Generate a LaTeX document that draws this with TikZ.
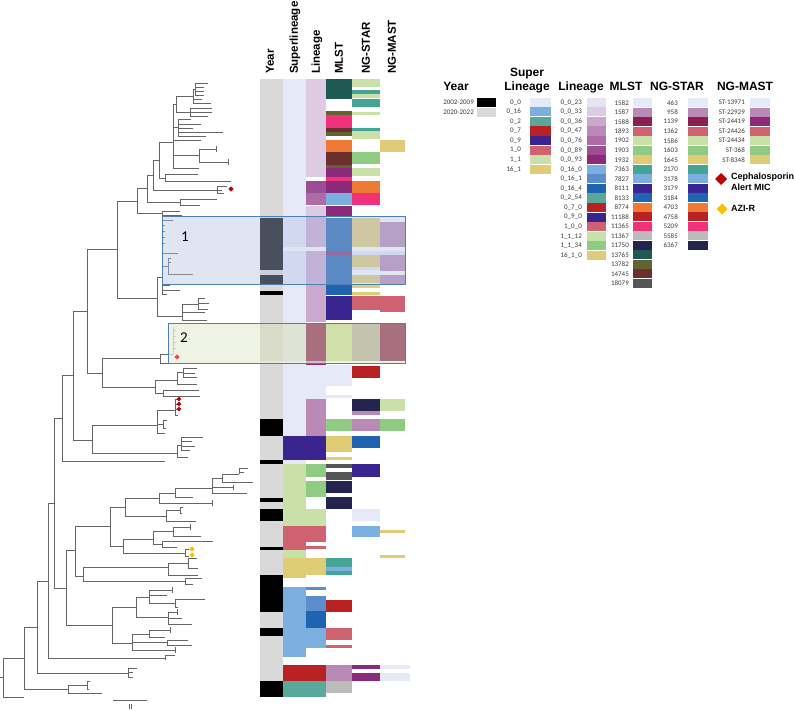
\documentclass[tikz,border=0pt]{standalone}
\usepackage{fontspec}
\setmainfont{Carlito}
\newfontfamily\hdfont{Liberation Sans}
\definecolor{cLav}{HTML}{E6E9F8}
\definecolor{cMauve}{HTML}{B88AB5}
\definecolor{cWine}{HTML}{8B1F52}
\definecolor{cPinkRed}{HTML}{CF6271}
\definecolor{cLGreen}{HTML}{C9E0A8}
\definecolor{cGreen}{HTML}{8FCB82}
\definecolor{cYellow}{HTML}{DFCC74}
\definecolor{cTeal}{HTML}{45A594}
\definecolor{cSLTeal}{HTML}{5AA899}
\definecolor{cLBlue}{HTML}{7AAFDF}
\definecolor{cMBlue}{HTML}{5B8ECB}
\definecolor{cPurple}{HTML}{3A2490}
\definecolor{cBlue}{HTML}{1F64B0}
\definecolor{cOrange}{HTML}{EF7A35}
\definecolor{cRed}{HTML}{B82222}
\definecolor{cHot}{HTML}{F0327A}
\definecolor{cGreyL}{HTML}{BBBBBB}
\definecolor{cNavy}{HTML}{25244F}
\definecolor{cDTeal}{HTML}{1F5953}
\definecolor{cOlive}{HTML}{636331}
\definecolor{cBrown}{HTML}{6A2F2F}
\definecolor{cDGrey}{HTML}{555555}
\definecolor{cMag}{HTML}{8B2A7A}
\definecolor{cL23}{HTML}{E6E4F4}
\definecolor{cL33}{HTML}{DCCBE2}
\definecolor{cL36}{HTML}{CBA9CF}
\definecolor{cL76}{HTML}{AD6CA7}
\definecolor{cL89}{HTML}{9C4E94}
\definecolor{cYear}{HTML}{D9D9D9}
\definecolor{treeGrey}{HTML}{666666}
\definecolor{labGrey}{HTML}{3A3A3A}
\definecolor{boxOneFill}{HTML}{B4C1E5}
\definecolor{boxTwoFill}{HTML}{E9EFDC}
\definecolor{boxEdge}{HTML}{4D7FB5}
\definecolor{bTwoYear}{HTML}{D7DBC8}
\definecolor{bTwoSup}{HTML}{DDE4D5}
\definecolor{bTwoLin}{HTML}{A8707F}
\definecolor{bTwoMl}{HTML}{D1E0AB}
\definecolor{bTwoSt}{HTML}{C4C4AE}
\definecolor{dRed}{HTML}{C00000}
\definecolor{dOrange}{HTML}{E0524A}
\definecolor{dYellow}{HTML}{FFC000}
\tikzset{
 treeline/.style={draw=treeGrey, line width=0.7pt, line cap=rect},
 hdr/.style={rotate=90, anchor=west, inner sep=0pt, font=\hdfont\bfseries\fontsize{11.5}{12}\selectfont},
 ttl/.style={anchor=base, inner sep=0pt, font=\hdfont\bfseries\fontsize{12}{13}\selectfont},
 leglab/.style={anchor=east, inner sep=0pt, text=labGrey, font=\fontsize{7}{8}\selectfont},
 keytxt/.style={anchor=west, inner sep=0pt, font=\hdfont\bfseries\fontsize{9}{10}\selectfont},
 boxlab/.style={inner sep=0pt, font=\fontsize{15}{16}\selectfont},
}
\newcommand{\dmd}[4]{\fill[#4] (#1,#2) +(0,-#3) -- +(#3,0) -- +(0,#3) -- +(-#3,0) -- cycle;}
\newcommand{\hmcol}[3]{\foreach \ya/\yb/\cc in {#3} {\fill[\cc] (#1,\ya) rectangle (#2,\yb);}}
\begin{document}
\begin{tikzpicture}[x=1pt,y=-1pt]
\useasboundingbox (0,0) rectangle (794,710);
\fill[white] (0,0) rectangle (794,710);
% ---------------- tree ----------------
\foreach \a/\b/\y in {0/3/677, 3/24/658, 3/24/697, 24/37/627, 24/68/689, 37/48/581, 37/128/673, 48/54/503, 48/165/658, 54/62/418, 54/66/588, 62/73/375, 62/165/461, 73/87/311, 73/92/440, 87/117/249, 87/102/373, 117/137/201, 117/157/298, 137/147/188, 137/162/213, 147/153/175, 147/180/202, 153/159/160, 153/217/190, 159/173/142, 159/165/178, 165/198/174, 165/231/181,
173/176/104, 176/193/96, 193/195/89, 195/208/83, 195/204/87, 195/204/91, 195/204/95, 193/202/99, 193/211/103, 176/190/112, 190/212/108, 190/212/112, 190/208/116,
173/178/127, 178/191/119, 178/201/124, 178/193/128, 178/223/132, 178/206/136,
173/201/140, 173/199/155, 199/216/149, 199/228/162, 173/199/168,
217/227/186, 217/222/190, 217/224/193, 180/217/199, 180/200/205, 162/180/211, 162/182/215,
157/162/277, 162/173/220, 162/165/225, 162/165/231, 162/165/237, 162/165/243, 162/178/253, 162/168/266, 168/171/258, 168/171/262, 168/193/274, 162/170/285, 162/180/290, 162/167/294,
157/182/316, 182/198/304, 198/205/298, 198/209/303, 198/208/309, 182/205/312, 182/207/320,
102/160/358, 160/173/354, 173/176/330, 173/176/336, 173/176/342, 173/176/348, 160/170/363,
102/155/387, 155/177/380, 177/183/372, 183/197/368, 183/195/373, 183/197/377, 177/197/384, 155/163/393, 163/199/390, 163/200/396,
92/157/425, 92/177/453, 157/175/410, 175/179/399, 175/179/404, 175/179/409, 175/178/415, 157/163/424, 163/167/420, 163/166/428, 157/165/433,
177/181/445, 181/203/437, 181/192/441, 181/195/446, 181/190/450, 177/188/457,
66/75/550, 66/112/625, 75/110/526, 75/83/576, 110/125/507, 110/123/546, 125/159/498, 125/166/516, 159/175/493, 159/212/503, 175/212/488, 175/193/497, 212/222/478, 212/233/487, 212/247/493, 222/239/474, 222/253/482, 239/248/468, 239/244/472,
166/180/510, 180/183/507, 180/182/513, 166/196/521,
123/153/539, 123/185/553, 153/173/531, 153/162/544, 173/190/527, 173/201/536, 162/213/541, 162/177/547, 185/189/549, 185/189/556,
83/168/567, 83/185/581, 168/188/563, 168/198/575, 188/197/558, 188/198/568, 185/202/578, 185/193/584,
112/136/607, 112/132/643, 136/149/597, 136/168/617, 149/172/590, 149/167/595, 149/175/603, 175/205/599, 175/178/607,
168/177/612, 168/182/618, 168/192/624,
132/149/634, 132/167/642, 132/175/650, 149/170/630, 149/165/637, 167/188/640, 167/192/645,
165/175/655, 128/137/668, 128/133/672, 128/133/677, 68/87/685, 68/102/693, 87/90/681, 87/89/689}
 {\draw[treeline] (\a,\y) -- (\b,\y);}
\foreach \x/\a/\b in {3/658/697, 24/627/689, 37/581/673, 48/503/658, 54/418/588, 62/375/461, 73/311/440, 87/249/373, 117/201/298, 137/188/213, 147/175/202, 153/160/190, 159/142/178, 165/174/181, 173/104/168, 176/96/112, 193/89/103, 195/83/95, 190/108/116, 178/119/136, 199/149/162, 216/146/152, 228/159/165, 217/186/193, 180/199/205, 162/211/215,
157/277/316, 162/220/294, 168/258/274, 182/304/320, 198/298/309,
102/358/387, 160/354/363, 173/327/354, 155/380/393, 177/372/384, 183/368/377, 163/390/396,
92/425/453, 157/410/433, 175/399/415, 163/420/428, 177/445/457, 181/437/450,
66/550/625, 75/526/576, 110/507/546, 125/498/516, 159/493/503, 175/488/497, 212/478/493, 222/474/482, 239/468/474, 233/485/490, 212/500/506,
166/510/521, 180/507/513, 123/539/553, 153/531/544, 173/527/536, 190/524/530, 162/541/547, 185/549/556, 83/567/581, 168/563/575, 188/558/568, 185/578/584,
112/607/643, 136/597/617, 149/590/603, 172/587/593, 175/599/607, 168/612/624, 177/609/615, 132/634/650, 149/630/637, 170/627/633, 167/640/645, 175/647/653,
165/655/660, 128/668/677, 68/685/693, 87/681/689}
 {\draw[treeline] (\x,\a) -- (\x,\b);}
% scale bar
\draw[treeline] (113,700) -- (147,700);
\draw[treeline,line width=0.5pt] (129.5,704) -- (129.5,709) (131.5,704) -- (131.5,709);
% ---------------- heatmap ----------------
\fill[cYear] (260,79) rectangle (283,697);
\hmcol{260}{283}{218/270/black, 275/285/black, 291/295/black, 419/436/black, 460/464/black, 498/502/black, 509/521/black, 547/550/black, 575/612/black, 628/636/black, 681/697/black}
\hmcol{283}{306}{79/436/cLav, 460/464/cLav, 464/526/cLGreen, 526/550/cPinkRed, 550/558/cLGreen, 558/578/cYellow, 587/657/cLBlue}
\hmcol{283}{326}{247/251/white, 436/460/cPurple, 665/681/cRed, 681/697/cSLTeal}
\hmcol{306}{326}{79/177/cL33, 181/193/cL89, 193/205/cL76, 206/216/cL33, 216/247/cL36, 251/322/cL36, 361/365/cMag, 365/399/cLav, 399/436/cMauve, 464/477/cGreen, 481/497/cGreen, 509/526/cLGreen, 526/542/cPinkRed, 546/549/cPinkRed, 558/575/cYellow, 587/590/cMBlue, 596/611/cMBlue, 611/628/cBlue, 628/648/cLBlue}
\hmcol{326}{352}{79/99/cDTeal, 111/115/cOlive, 115/128/cHot, 128/132/cBrown, 132/136/cOlive, 140/152/cOrange, 152/165/cBrown, 165/168/cOlive, 168/177/cMag, 177/181/cHot, 181/193/cMag, 193/205/cLBlue, 206/217/cMag, 218/295/cBlue, 251/255/cMag, 296/320/cPurple, 365/386/cLav, 395/398/cLav, 419/431/cGreen, 436/452/cYellow, 457/460/cYellow, 464/468/cDGrey, 472/480/cDGrey, 481/493/cNavy, 497/509/cNavy, 558/567/cTeal, 567/571/cLBlue, 571/575/cTeal, 600/612/cRed, 628/640/cPinkRed, 645/648/cPinkRed, 665/681/cMauve, 681/693/cGreyL}
\hmcol{352}{380}{79/87/cLGreen, 90/94/cTeal, 94/98/cLGreen, 99/107/cTeal, 112/115/cLGreen, 128/131/cTeal, 131/139/cLGreen, 152/164/cGreen, 168/176/cLGreen, 181/193/cOrange, 193/205/cHot, 218/247/cYellow, 251/255/cLav, 255/267/cYellow, 267/270/cLav, 275/283/cYellow, 285/288/cYellow, 292/295/cYellow, 296/310/cPinkRed, 366/378/cRed, 399/411/cNavy, 411/415/cMauve, 419/431/cMauve, 436/448/cBlue, 464/477/cPurple, 509/521/cLav, 526/537/cLBlue, 665/669/cMag, 673/681/cMag}
\hmcol{380}{405}{140/152/cYellow, 222/247/cMauve, 251/255/cLav, 255/271/cMauve, 275/284/cMauve, 296/312/cPinkRed, 399/411/cLGreen, 419/431/cGreen, 530/533/cYellow, 555/558/cYellow}
\hmcol{380}{410}{665/669/cLav, 673/681/cLav}
% ---------------- highlight boxes ----------------
\fill[boxOneFill, fill opacity=0.41] (162,216) rectangle (405,284);
\draw[boxEdge, line width=0.9pt] (162,216) rectangle (405,284);
\fill[boxTwoFill, fill opacity=0.75] (168,323) rectangle (405,363);
\hmcol{260}{283}{323/361/bTwoYear}
\hmcol{283}{306}{323/361/bTwoSup}
\hmcol{306}{326}{323/361/bTwoLin}
\hmcol{326}{352}{323/361/bTwoMl}
\hmcol{352}{380}{323/361/bTwoSt}
\hmcol{380}{405}{323/361/bTwoLin}
\draw[boxEdge, line width=0.9pt] (168,323) rectangle (405,363);
\node[boxlab] (labOne) at (185,237) {1};
\node[boxlab] (labTwo) at (184,338) {2};
% tree markers
\dmd{231}{189}{2.6}{dRed}
\dmd{179}{399}{2.4}{dRed}
\dmd{179}{404}{2.4}{dRed}
\dmd{179}{409}{2.4}{dRed}
\dmd{177}{357}{2.6}{dOrange}
\dmd{192}{549}{2.6}{dYellow}
\dmd{192}{555}{2.6}{dYellow}
% ---------------- column headers ----------------
\node[hdr] (hYear) at (270,74) {Year};
\node[hdr] (hSup) at (295,74) {Superlineage};
\node[hdr] (hLin) at (317,74) {Lineage};
\node[hdr] (hMl) at (339,74) {MLST};
\node[hdr] (hSt) at (366,74) {NG-STAR};
\node[hdr] (hMa) at (392,74) {NG-MAST};
% ---------------- legend ----------------
\node[ttl] (tYear) at (456,90) {Year};
\node[ttl] (tSupA) at (527,76) {Super};
\node[ttl] (tSupB) at (527,90) {Lineage};
\node[ttl] (tLin) at (581,90) {Lineage};
\node[ttl] (tMl) at (626,90) {MLST};
\node[ttl] (tSt) at (677,90) {NG-STAR};
\node[ttl] (tMa) at (745,90) {NG-MAST};
\node[leglab] (yA) at (474,102.5) {2002-2009};
\fill[black] (477,98) rectangle (496,107);
\node[leglab] (yB) at (474,112) {2020-2022};
\fill[cYear] (477,108) rectangle (496,117);
\foreach \t/\c [count=\i from 0] in {0\_0/cLav, 0\_16/cLBlue, 0\_2/cSLTeal, 0\_7/cRed, 0\_9/cPurple, 1\_0/cPinkRed, 1\_1/cLGreen, 16\_1/cYellow}
 {\node[leglab] (sl\i) at (521,{102.3+9.57*\i}) {\t};
  \fill[\c] (530,{97.7+9.57*\i}) rectangle (551,{106.9+9.57*\i});}
\foreach \t/\c [count=\i from 0] in {0\_0\_23/cL23, 0\_0\_33/cL33, 0\_0\_36/cL36, 0\_0\_47/cMauve, 0\_0\_76/cL76, 0\_0\_89/cL89, 0\_0\_93/cMag, 0\_16\_0/cLBlue, 0\_16\_1/cMBlue, 0\_16\_4/cBlue, 0\_2\_54/cSLTeal, 0\_7\_0/cRed, 0\_9\_0/cPurple, 1\_0\_0/cPinkRed, 1\_1\_12/cLGreen, 1\_1\_34/cGreen, 16\_1\_0/cYellow}
 {\node[leglab] (li\i) at (582,{102.3+9.57*\i}) {\t};
  \fill[\c] (587,{97.7+9.57*\i}) rectangle (606,{106.9+9.57*\i});}
\foreach \t/\c [count=\i from 0] in {1582/cLav, 1587/cMauve, 1588/cWine, 1893/cPinkRed, 1902/cLGreen, 1903/cGreen, 1932/cYellow, 7363/cTeal, 7827/cLBlue, 8111/cPurple, 8133/cBlue, 8774/cOrange, 11188/cRed, 11365/cHot, 11367/cGreyL, 11750/cNavy, 13765/cDTeal, 13782/cOlive, 14745/cBrown, 18079/cDGrey}
 {\node[leglab] (ml\i) at (629,{102.7+9.51*\i}) {\t};
  \fill[\c] (633,{98.1+9.51*\i}) rectangle (652,{107.2+9.51*\i});}
\foreach \t/\c [count=\i from 0] in {463/cLav, 958/cMauve, 1139/cWine, 1362/cPinkRed, 1586/cLGreen, 1603/cGreen, 1645/cYellow, 2170/cTeal, 3178/cLBlue, 3179/cPurple, 3184/cBlue, 4703/cOrange, 4758/cRed, 5209/cHot, 5585/cGreyL, 6367/cNavy}
 {\node[leglab] (st\i) at (678,{102.7+9.51*\i}) {\t};
  \fill[\c] (688,{98.1+9.51*\i}) rectangle (708,{107.2+9.51*\i});}
\foreach \t/\c [count=\i from 0] in {ST-13971/cLav, ST-22929/cMauve, ST-24419/cMag, ST-24426/cPinkRed, ST-24434/cLGreen, ST-368/cGreen, ST-8348/cYellow}
 {\node[leglab] (ma\i) at (745,{102.7+9.51*\i}) {\t};
  \fill[\c] (750,{98.1+9.51*\i}) rectangle (770,{107.2+9.51*\i});}
\dmd{721}{179}{6}{dRed}
\node[keytxt] (kA) at (731,177.5) {Cephalosporin};
\node[keytxt] (kB) at (731,187.5) {Alert MIC};
\dmd{722}{209}{5.5}{dYellow}
\node[keytxt] (kC) at (731,208.5) {AZI-R};
\end{tikzpicture}
\end{document}
